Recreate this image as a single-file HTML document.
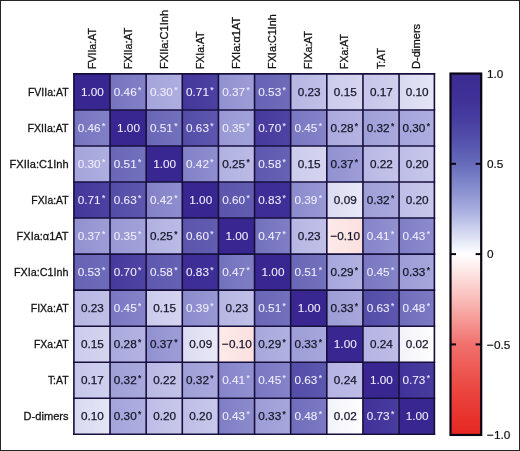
<!DOCTYPE html>
<html lang="en"><head><meta charset="utf-8"><title>Correlation heat map</title>
<style>
html,body{margin:0;padding:0;background:#fff;}
body{width:520px;height:451px;overflow:hidden;}
svg{display:block;}
text{font-family:"Liberation Sans",sans-serif;}
.v{font-size:11.75px;text-anchor:middle;}
.a{font-size:8.5px;}
.r{font-size:11.7px;text-anchor:end;fill:#111;stroke:#111;stroke-width:0.28px;}
.c{font-size:11.7px;text-anchor:start;fill:#111;stroke:#111;stroke-width:0.28px;}
.t{font-size:11.8px;text-anchor:start;fill:#111;stroke:#111;stroke-width:0.2px;}
</style></head><body>
<svg width="520" height="451" viewBox="0 0 520 451">
<rect x="0" y="0" width="520" height="451" fill="#fff"/>
<defs>
<linearGradient id="g0" x1="0" y1="0" x2="1" y2="0"><stop offset="0" stop-color="#392690"/><stop offset="1" stop-color="#392791"/></linearGradient>
<linearGradient id="g1" x1="0" y1="0" x2="1" y2="0"><stop offset="0" stop-color="#7674bf"/><stop offset="1" stop-color="#8281c7"/></linearGradient>
<linearGradient id="g2" x1="0" y1="0" x2="1" y2="0"><stop offset="0" stop-color="#a5a4db"/><stop offset="1" stop-color="#afaee0"/></linearGradient>
<linearGradient id="g3" x1="0" y1="0" x2="1" y2="0"><stop offset="0" stop-color="#44379c"/><stop offset="1" stop-color="#4c42a2"/></linearGradient>
<linearGradient id="g4" x1="0" y1="0" x2="1" y2="0"><stop offset="0" stop-color="#9291d1"/><stop offset="1" stop-color="#9d9dd7"/></linearGradient>
<linearGradient id="g5" x1="0" y1="0" x2="1" y2="0"><stop offset="0" stop-color="#6763b5"/><stop offset="1" stop-color="#6e6cba"/></linearGradient>
<linearGradient id="g6" x1="0" y1="0" x2="1" y2="0"><stop offset="0" stop-color="#b6b6e4"/><stop offset="1" stop-color="#c1c0e8"/></linearGradient>
<linearGradient id="g7" x1="0" y1="0" x2="1" y2="0"><stop offset="0" stop-color="#cbcbec"/><stop offset="1" stop-color="#d5d5f0"/></linearGradient>
<linearGradient id="g8" x1="0" y1="0" x2="1" y2="0"><stop offset="0" stop-color="#c6c5ea"/><stop offset="1" stop-color="#d0d0ee"/></linearGradient>
<linearGradient id="g9" x1="0" y1="0" x2="1" y2="0"><stop offset="0" stop-color="#d8d8f1"/><stop offset="1" stop-color="#e5e5f6"/></linearGradient>
<linearGradient id="g10" x1="0" y1="0" x2="1" y2="0"><stop offset="0" stop-color="#6a67b7"/><stop offset="1" stop-color="#7271bd"/></linearGradient>
<linearGradient id="g11" x1="0" y1="0" x2="1" y2="0"><stop offset="0" stop-color="#544da8"/><stop offset="1" stop-color="#5c57ae"/></linearGradient>
<linearGradient id="g12" x1="0" y1="0" x2="1" y2="0"><stop offset="0" stop-color="#9898d4"/><stop offset="1" stop-color="#a2a2da"/></linearGradient>
<linearGradient id="g13" x1="0" y1="0" x2="1" y2="0"><stop offset="0" stop-color="#463a9d"/><stop offset="1" stop-color="#4e44a3"/></linearGradient>
<linearGradient id="g14" x1="0" y1="0" x2="1" y2="0"><stop offset="0" stop-color="#7977c1"/><stop offset="1" stop-color="#8584c9"/></linearGradient>
<linearGradient id="g15" x1="0" y1="0" x2="1" y2="0"><stop offset="0" stop-color="#aaa9dd"/><stop offset="1" stop-color="#b4b3e2"/></linearGradient>
<linearGradient id="g16" x1="0" y1="0" x2="1" y2="0"><stop offset="0" stop-color="#9f9fd8"/><stop offset="1" stop-color="#aaa9dd"/></linearGradient>
<linearGradient id="g17" x1="0" y1="0" x2="1" y2="0"><stop offset="0" stop-color="#8281c7"/><stop offset="1" stop-color="#8f8ecf"/></linearGradient>
<linearGradient id="g18" x1="0" y1="0" x2="1" y2="0"><stop offset="0" stop-color="#b1b1e1"/><stop offset="1" stop-color="#bcbbe6"/></linearGradient>
<linearGradient id="g19" x1="0" y1="0" x2="1" y2="0"><stop offset="0" stop-color="#5e59af"/><stop offset="1" stop-color="#6561b4"/></linearGradient>
<linearGradient id="g20" x1="0" y1="0" x2="1" y2="0"><stop offset="0" stop-color="#b9b8e5"/><stop offset="1" stop-color="#c3c3e9"/></linearGradient>
<linearGradient id="g21" x1="0" y1="0" x2="1" y2="0"><stop offset="0" stop-color="#bebde7"/><stop offset="1" stop-color="#c8c8eb"/></linearGradient>
<linearGradient id="g22" x1="0" y1="0" x2="1" y2="0"><stop offset="0" stop-color="#5b55ac"/><stop offset="1" stop-color="#625db1"/></linearGradient>
<linearGradient id="g23" x1="0" y1="0" x2="1" y2="0"><stop offset="0" stop-color="#3d2c95"/><stop offset="1" stop-color="#3e2f97"/></linearGradient>
<linearGradient id="g24" x1="0" y1="0" x2="1" y2="0"><stop offset="0" stop-color="#8b8bcd"/><stop offset="1" stop-color="#9898d4"/></linearGradient>
<linearGradient id="g25" x1="0" y1="0" x2="1" y2="0"><stop offset="0" stop-color="#dbdbf2"/><stop offset="1" stop-color="#e8e8f7"/></linearGradient>
<linearGradient id="g26" x1="0" y1="0" x2="1" y2="0"><stop offset="0" stop-color="#7271bd"/><stop offset="1" stop-color="#7f7ec5"/></linearGradient>
<linearGradient id="g27" x1="0" y1="0" x2="1" y2="0"><stop offset="0" stop-color="#fdeae9"/><stop offset="1" stop-color="#fce0de"/></linearGradient>
<linearGradient id="g28" x1="0" y1="0" x2="1" y2="0"><stop offset="0" stop-color="#8584c9"/><stop offset="1" stop-color="#9291d1"/></linearGradient>
<linearGradient id="g29" x1="0" y1="0" x2="1" y2="0"><stop offset="0" stop-color="#7f7ec5"/><stop offset="1" stop-color="#8b8bcd"/></linearGradient>
<linearGradient id="g30" x1="0" y1="0" x2="1" y2="0"><stop offset="0" stop-color="#a7a7dc"/><stop offset="1" stop-color="#b1b1e1"/></linearGradient>
<linearGradient id="g31" x1="0" y1="0" x2="1" y2="0"><stop offset="0" stop-color="#9d9dd7"/><stop offset="1" stop-color="#a7a7dc"/></linearGradient>
<linearGradient id="g32" x1="0" y1="0" x2="1" y2="0"><stop offset="0" stop-color="#706ebb"/><stop offset="1" stop-color="#7c7ac3"/></linearGradient>
<linearGradient id="g33" x1="0" y1="0" x2="1" y2="0"><stop offset="0" stop-color="#b4b3e2"/><stop offset="1" stop-color="#bebde7"/></linearGradient>
<linearGradient id="g34" x1="0" y1="0" x2="1" y2="0"><stop offset="0" stop-color="#f2f2fa"/><stop offset="1" stop-color="#fefeff"/></linearGradient>
<linearGradient id="g35" x1="0" y1="0" x2="1" y2="0"><stop offset="0" stop-color="#403299"/><stop offset="1" stop-color="#483c9f"/></linearGradient>
</defs>
<rect x="73.90" y="73.90" width="36.13" height="36.04" fill="url(#g0)"/>
<rect x="110.03" y="73.90" width="36.13" height="36.04" fill="url(#g1)"/>
<rect x="146.16" y="73.90" width="36.13" height="36.04" fill="url(#g2)"/>
<rect x="182.29" y="73.90" width="36.13" height="36.04" fill="url(#g3)"/>
<rect x="218.42" y="73.90" width="36.13" height="36.04" fill="url(#g4)"/>
<rect x="254.55" y="73.90" width="36.13" height="36.04" fill="url(#g5)"/>
<rect x="290.68" y="73.90" width="36.13" height="36.04" fill="url(#g6)"/>
<rect x="326.81" y="73.90" width="36.13" height="36.04" fill="url(#g7)"/>
<rect x="362.94" y="73.90" width="36.13" height="36.04" fill="url(#g8)"/>
<rect x="399.07" y="73.90" width="35.33" height="36.04" fill="url(#g9)"/>
<rect x="73.90" y="109.94" width="36.13" height="36.04" fill="url(#g1)"/>
<rect x="110.03" y="109.94" width="36.13" height="36.04" fill="url(#g0)"/>
<rect x="146.16" y="109.94" width="36.13" height="36.04" fill="url(#g10)"/>
<rect x="182.29" y="109.94" width="36.13" height="36.04" fill="url(#g11)"/>
<rect x="218.42" y="109.94" width="36.13" height="36.04" fill="url(#g12)"/>
<rect x="254.55" y="109.94" width="36.13" height="36.04" fill="url(#g13)"/>
<rect x="290.68" y="109.94" width="36.13" height="36.04" fill="url(#g14)"/>
<rect x="326.81" y="109.94" width="36.13" height="36.04" fill="url(#g15)"/>
<rect x="362.94" y="109.94" width="36.13" height="36.04" fill="url(#g16)"/>
<rect x="399.07" y="109.94" width="35.33" height="36.04" fill="url(#g2)"/>
<rect x="73.90" y="145.98" width="36.13" height="36.04" fill="url(#g2)"/>
<rect x="110.03" y="145.98" width="36.13" height="36.04" fill="url(#g10)"/>
<rect x="146.16" y="145.98" width="36.13" height="36.04" fill="url(#g0)"/>
<rect x="182.29" y="145.98" width="36.13" height="36.04" fill="url(#g17)"/>
<rect x="218.42" y="145.98" width="36.13" height="36.04" fill="url(#g18)"/>
<rect x="254.55" y="145.98" width="36.13" height="36.04" fill="url(#g19)"/>
<rect x="290.68" y="145.98" width="36.13" height="36.04" fill="url(#g7)"/>
<rect x="326.81" y="145.98" width="36.13" height="36.04" fill="url(#g4)"/>
<rect x="362.94" y="145.98" width="36.13" height="36.04" fill="url(#g20)"/>
<rect x="399.07" y="145.98" width="35.33" height="36.04" fill="url(#g21)"/>
<rect x="73.90" y="182.02" width="36.13" height="36.04" fill="url(#g3)"/>
<rect x="110.03" y="182.02" width="36.13" height="36.04" fill="url(#g11)"/>
<rect x="146.16" y="182.02" width="36.13" height="36.04" fill="url(#g17)"/>
<rect x="182.29" y="182.02" width="36.13" height="36.04" fill="url(#g0)"/>
<rect x="218.42" y="182.02" width="36.13" height="36.04" fill="url(#g22)"/>
<rect x="254.55" y="182.02" width="36.13" height="36.04" fill="url(#g23)"/>
<rect x="290.68" y="182.02" width="36.13" height="36.04" fill="url(#g24)"/>
<rect x="326.81" y="182.02" width="36.13" height="36.04" fill="url(#g25)"/>
<rect x="362.94" y="182.02" width="36.13" height="36.04" fill="url(#g16)"/>
<rect x="399.07" y="182.02" width="35.33" height="36.04" fill="url(#g21)"/>
<rect x="73.90" y="218.06" width="36.13" height="36.04" fill="url(#g4)"/>
<rect x="110.03" y="218.06" width="36.13" height="36.04" fill="url(#g12)"/>
<rect x="146.16" y="218.06" width="36.13" height="36.04" fill="url(#g18)"/>
<rect x="182.29" y="218.06" width="36.13" height="36.04" fill="url(#g22)"/>
<rect x="218.42" y="218.06" width="36.13" height="36.04" fill="url(#g0)"/>
<rect x="254.55" y="218.06" width="36.13" height="36.04" fill="url(#g26)"/>
<rect x="290.68" y="218.06" width="36.13" height="36.04" fill="url(#g6)"/>
<rect x="326.81" y="218.06" width="36.13" height="36.04" fill="url(#g27)"/>
<rect x="362.94" y="218.06" width="36.13" height="36.04" fill="url(#g28)"/>
<rect x="399.07" y="218.06" width="35.33" height="36.04" fill="url(#g29)"/>
<rect x="73.90" y="254.10" width="36.13" height="36.04" fill="url(#g5)"/>
<rect x="110.03" y="254.10" width="36.13" height="36.04" fill="url(#g13)"/>
<rect x="146.16" y="254.10" width="36.13" height="36.04" fill="url(#g19)"/>
<rect x="182.29" y="254.10" width="36.13" height="36.04" fill="url(#g23)"/>
<rect x="218.42" y="254.10" width="36.13" height="36.04" fill="url(#g26)"/>
<rect x="254.55" y="254.10" width="36.13" height="36.04" fill="url(#g0)"/>
<rect x="290.68" y="254.10" width="36.13" height="36.04" fill="url(#g10)"/>
<rect x="326.81" y="254.10" width="36.13" height="36.04" fill="url(#g30)"/>
<rect x="362.94" y="254.10" width="36.13" height="36.04" fill="url(#g14)"/>
<rect x="399.07" y="254.10" width="35.33" height="36.04" fill="url(#g31)"/>
<rect x="73.90" y="290.14" width="36.13" height="36.04" fill="url(#g6)"/>
<rect x="110.03" y="290.14" width="36.13" height="36.04" fill="url(#g14)"/>
<rect x="146.16" y="290.14" width="36.13" height="36.04" fill="url(#g7)"/>
<rect x="182.29" y="290.14" width="36.13" height="36.04" fill="url(#g24)"/>
<rect x="218.42" y="290.14" width="36.13" height="36.04" fill="url(#g6)"/>
<rect x="254.55" y="290.14" width="36.13" height="36.04" fill="url(#g10)"/>
<rect x="290.68" y="290.14" width="36.13" height="36.04" fill="url(#g0)"/>
<rect x="326.81" y="290.14" width="36.13" height="36.04" fill="url(#g31)"/>
<rect x="362.94" y="290.14" width="36.13" height="36.04" fill="url(#g11)"/>
<rect x="399.07" y="290.14" width="35.33" height="36.04" fill="url(#g32)"/>
<rect x="73.90" y="326.18" width="36.13" height="36.04" fill="url(#g7)"/>
<rect x="110.03" y="326.18" width="36.13" height="36.04" fill="url(#g15)"/>
<rect x="146.16" y="326.18" width="36.13" height="36.04" fill="url(#g4)"/>
<rect x="182.29" y="326.18" width="36.13" height="36.04" fill="url(#g25)"/>
<rect x="218.42" y="326.18" width="36.13" height="36.04" fill="url(#g27)"/>
<rect x="254.55" y="326.18" width="36.13" height="36.04" fill="url(#g30)"/>
<rect x="290.68" y="326.18" width="36.13" height="36.04" fill="url(#g31)"/>
<rect x="326.81" y="326.18" width="36.13" height="36.04" fill="url(#g0)"/>
<rect x="362.94" y="326.18" width="36.13" height="36.04" fill="url(#g33)"/>
<rect x="399.07" y="326.18" width="35.33" height="36.04" fill="url(#g34)"/>
<rect x="73.90" y="362.22" width="36.13" height="36.04" fill="url(#g8)"/>
<rect x="110.03" y="362.22" width="36.13" height="36.04" fill="url(#g16)"/>
<rect x="146.16" y="362.22" width="36.13" height="36.04" fill="url(#g20)"/>
<rect x="182.29" y="362.22" width="36.13" height="36.04" fill="url(#g16)"/>
<rect x="218.42" y="362.22" width="36.13" height="36.04" fill="url(#g28)"/>
<rect x="254.55" y="362.22" width="36.13" height="36.04" fill="url(#g14)"/>
<rect x="290.68" y="362.22" width="36.13" height="36.04" fill="url(#g11)"/>
<rect x="326.81" y="362.22" width="36.13" height="36.04" fill="url(#g33)"/>
<rect x="362.94" y="362.22" width="36.13" height="36.04" fill="url(#g0)"/>
<rect x="399.07" y="362.22" width="35.33" height="36.04" fill="url(#g35)"/>
<rect x="73.90" y="398.26" width="36.13" height="36.04" fill="url(#g9)"/>
<rect x="110.03" y="398.26" width="36.13" height="36.04" fill="url(#g2)"/>
<rect x="146.16" y="398.26" width="36.13" height="36.04" fill="url(#g21)"/>
<rect x="182.29" y="398.26" width="36.13" height="36.04" fill="url(#g21)"/>
<rect x="218.42" y="398.26" width="36.13" height="36.04" fill="url(#g29)"/>
<rect x="254.55" y="398.26" width="36.13" height="36.04" fill="url(#g31)"/>
<rect x="290.68" y="398.26" width="36.13" height="36.04" fill="url(#g32)"/>
<rect x="326.81" y="398.26" width="36.13" height="36.04" fill="url(#g34)"/>
<rect x="362.94" y="398.26" width="36.13" height="36.04" fill="url(#g35)"/>
<rect x="399.07" y="398.26" width="35.33" height="36.04" fill="url(#g0)"/>
<line x1="73.90" y1="73.10" x2="73.90" y2="435.10" stroke="#160f3c" stroke-width="1.6"/>
<line x1="73.10" y1="73.90" x2="435.20" y2="73.90" stroke="#160f3c" stroke-width="1.6"/>
<line x1="110.03" y1="73.10" x2="110.03" y2="435.10" stroke="#160f3c" stroke-width="1.6"/>
<line x1="73.10" y1="109.94" x2="435.20" y2="109.94" stroke="#160f3c" stroke-width="1.6"/>
<line x1="146.16" y1="73.10" x2="146.16" y2="435.10" stroke="#160f3c" stroke-width="1.6"/>
<line x1="73.10" y1="145.98" x2="435.20" y2="145.98" stroke="#160f3c" stroke-width="1.6"/>
<line x1="182.29" y1="73.10" x2="182.29" y2="435.10" stroke="#160f3c" stroke-width="1.6"/>
<line x1="73.10" y1="182.02" x2="435.20" y2="182.02" stroke="#160f3c" stroke-width="1.6"/>
<line x1="218.42" y1="73.10" x2="218.42" y2="435.10" stroke="#160f3c" stroke-width="1.6"/>
<line x1="73.10" y1="218.06" x2="435.20" y2="218.06" stroke="#160f3c" stroke-width="1.6"/>
<line x1="254.55" y1="73.10" x2="254.55" y2="435.10" stroke="#160f3c" stroke-width="1.6"/>
<line x1="73.10" y1="254.10" x2="435.20" y2="254.10" stroke="#160f3c" stroke-width="1.6"/>
<line x1="290.68" y1="73.10" x2="290.68" y2="435.10" stroke="#160f3c" stroke-width="1.6"/>
<line x1="73.10" y1="290.14" x2="435.20" y2="290.14" stroke="#160f3c" stroke-width="1.6"/>
<line x1="326.81" y1="73.10" x2="326.81" y2="435.10" stroke="#160f3c" stroke-width="1.6"/>
<line x1="73.10" y1="326.18" x2="435.20" y2="326.18" stroke="#160f3c" stroke-width="1.6"/>
<line x1="362.94" y1="73.10" x2="362.94" y2="435.10" stroke="#160f3c" stroke-width="1.6"/>
<line x1="73.10" y1="362.22" x2="435.20" y2="362.22" stroke="#160f3c" stroke-width="1.6"/>
<line x1="399.07" y1="73.10" x2="399.07" y2="435.10" stroke="#160f3c" stroke-width="1.6"/>
<line x1="73.10" y1="398.26" x2="435.20" y2="398.26" stroke="#160f3c" stroke-width="1.6"/>
<line x1="434.40" y1="73.10" x2="434.40" y2="435.10" stroke="#160f3c" stroke-width="1.6"/>
<line x1="73.10" y1="434.30" x2="435.20" y2="434.30" stroke="#160f3c" stroke-width="1.6"/>
<text class="v" x="92.37" y="95.82" fill="#efedfc" stroke="#efedfc" stroke-width="0.08">1.00</text>
<text class="v" x="127.60" y="95.82" fill="#efedfc" stroke="#efedfc" stroke-width="0.08">0.46<tspan class="a" dx="1.4" dy="-2.8">*</tspan></text>
<text class="v" x="163.73" y="95.82" fill="#efedfc" stroke="#efedfc" stroke-width="0.08">0.30<tspan class="a" dx="1.4" dy="-2.8">*</tspan></text>
<text class="v" x="199.86" y="95.82" fill="#efedfc" stroke="#efedfc" stroke-width="0.08">0.71<tspan class="a" dx="1.4" dy="-2.8">*</tspan></text>
<text class="v" x="235.99" y="95.82" fill="#efedfc" stroke="#efedfc" stroke-width="0.08">0.37<tspan class="a" dx="1.4" dy="-2.8">*</tspan></text>
<text class="v" x="272.12" y="95.82" fill="#efedfc" stroke="#efedfc" stroke-width="0.08">0.53<tspan class="a" dx="1.4" dy="-2.8">*</tspan></text>
<text class="v" x="309.15" y="95.82" fill="#16162a" stroke="#16162a" stroke-width="0.25">0.23</text>
<text class="v" x="345.28" y="95.82" fill="#16162a" stroke="#16162a" stroke-width="0.25">0.15</text>
<text class="v" x="381.41" y="95.82" fill="#16162a" stroke="#16162a" stroke-width="0.25">0.17</text>
<text class="v" x="417.13" y="95.82" fill="#16162a" stroke="#16162a" stroke-width="0.25">0.10</text>
<text class="v" x="91.47" y="131.86" fill="#efedfc" stroke="#efedfc" stroke-width="0.08">0.46<tspan class="a" dx="1.4" dy="-2.8">*</tspan></text>
<text class="v" x="128.50" y="131.86" fill="#efedfc" stroke="#efedfc" stroke-width="0.08">1.00</text>
<text class="v" x="163.73" y="131.86" fill="#efedfc" stroke="#efedfc" stroke-width="0.08">0.51<tspan class="a" dx="1.4" dy="-2.8">*</tspan></text>
<text class="v" x="199.86" y="131.86" fill="#efedfc" stroke="#efedfc" stroke-width="0.08">0.63<tspan class="a" dx="1.4" dy="-2.8">*</tspan></text>
<text class="v" x="235.99" y="131.86" fill="#efedfc" stroke="#efedfc" stroke-width="0.08">0.35<tspan class="a" dx="1.4" dy="-2.8">*</tspan></text>
<text class="v" x="272.12" y="131.86" fill="#efedfc" stroke="#efedfc" stroke-width="0.08">0.70<tspan class="a" dx="1.4" dy="-2.8">*</tspan></text>
<text class="v" x="308.25" y="131.86" fill="#efedfc" stroke="#efedfc" stroke-width="0.08">0.45<tspan class="a" dx="1.4" dy="-2.8">*</tspan></text>
<text class="v" x="344.38" y="131.86" fill="#16162a" stroke="#16162a" stroke-width="0.25">0.28<tspan class="a" dx="1.4" dy="-2.8">*</tspan></text>
<text class="v" x="380.51" y="131.86" fill="#16162a" stroke="#16162a" stroke-width="0.25">0.32<tspan class="a" dx="1.4" dy="-2.8">*</tspan></text>
<text class="v" x="416.24" y="131.86" fill="#16162a" stroke="#16162a" stroke-width="0.25">0.30<tspan class="a" dx="1.4" dy="-2.8">*</tspan></text>
<text class="v" x="91.47" y="167.90" fill="#efedfc" stroke="#efedfc" stroke-width="0.08">0.30<tspan class="a" dx="1.4" dy="-2.8">*</tspan></text>
<text class="v" x="127.60" y="167.90" fill="#efedfc" stroke="#efedfc" stroke-width="0.08">0.51<tspan class="a" dx="1.4" dy="-2.8">*</tspan></text>
<text class="v" x="164.63" y="167.90" fill="#efedfc" stroke="#efedfc" stroke-width="0.08">1.00</text>
<text class="v" x="199.86" y="167.90" fill="#efedfc" stroke="#efedfc" stroke-width="0.08">0.42<tspan class="a" dx="1.4" dy="-2.8">*</tspan></text>
<text class="v" x="235.99" y="167.90" fill="#16162a" stroke="#16162a" stroke-width="0.25">0.25<tspan class="a" dx="1.4" dy="-2.8">*</tspan></text>
<text class="v" x="272.12" y="167.90" fill="#efedfc" stroke="#efedfc" stroke-width="0.08">0.58<tspan class="a" dx="1.4" dy="-2.8">*</tspan></text>
<text class="v" x="309.15" y="167.90" fill="#16162a" stroke="#16162a" stroke-width="0.25">0.15</text>
<text class="v" x="344.38" y="167.90" fill="#16162a" stroke="#16162a" stroke-width="0.25">0.37<tspan class="a" dx="1.4" dy="-2.8">*</tspan></text>
<text class="v" x="381.41" y="167.90" fill="#16162a" stroke="#16162a" stroke-width="0.25">0.22</text>
<text class="v" x="417.13" y="167.90" fill="#16162a" stroke="#16162a" stroke-width="0.25">0.20</text>
<text class="v" x="91.47" y="203.94" fill="#efedfc" stroke="#efedfc" stroke-width="0.08">0.71<tspan class="a" dx="1.4" dy="-2.8">*</tspan></text>
<text class="v" x="127.60" y="203.94" fill="#efedfc" stroke="#efedfc" stroke-width="0.08">0.63<tspan class="a" dx="1.4" dy="-2.8">*</tspan></text>
<text class="v" x="163.73" y="203.94" fill="#efedfc" stroke="#efedfc" stroke-width="0.08">0.42<tspan class="a" dx="1.4" dy="-2.8">*</tspan></text>
<text class="v" x="200.76" y="203.94" fill="#efedfc" stroke="#efedfc" stroke-width="0.08">1.00</text>
<text class="v" x="235.99" y="203.94" fill="#efedfc" stroke="#efedfc" stroke-width="0.08">0.60<tspan class="a" dx="1.4" dy="-2.8">*</tspan></text>
<text class="v" x="272.12" y="203.94" fill="#efedfc" stroke="#efedfc" stroke-width="0.08">0.83<tspan class="a" dx="1.4" dy="-2.8">*</tspan></text>
<text class="v" x="308.25" y="203.94" fill="#efedfc" stroke="#efedfc" stroke-width="0.08">0.39<tspan class="a" dx="1.4" dy="-2.8">*</tspan></text>
<text class="v" x="345.28" y="203.94" fill="#16162a" stroke="#16162a" stroke-width="0.25">0.09</text>
<text class="v" x="380.51" y="203.94" fill="#16162a" stroke="#16162a" stroke-width="0.25">0.32<tspan class="a" dx="1.4" dy="-2.8">*</tspan></text>
<text class="v" x="417.13" y="203.94" fill="#16162a" stroke="#16162a" stroke-width="0.25">0.20</text>
<text class="v" x="91.47" y="239.98" fill="#efedfc" stroke="#efedfc" stroke-width="0.08">0.37<tspan class="a" dx="1.4" dy="-2.8">*</tspan></text>
<text class="v" x="127.60" y="239.98" fill="#efedfc" stroke="#efedfc" stroke-width="0.08">0.35<tspan class="a" dx="1.4" dy="-2.8">*</tspan></text>
<text class="v" x="163.73" y="239.98" fill="#16162a" stroke="#16162a" stroke-width="0.25">0.25<tspan class="a" dx="1.4" dy="-2.8">*</tspan></text>
<text class="v" x="199.86" y="239.98" fill="#efedfc" stroke="#efedfc" stroke-width="0.08">0.60<tspan class="a" dx="1.4" dy="-2.8">*</tspan></text>
<text class="v" x="236.89" y="239.98" fill="#efedfc" stroke="#efedfc" stroke-width="0.08">1.00</text>
<text class="v" x="272.12" y="239.98" fill="#efedfc" stroke="#efedfc" stroke-width="0.08">0.47<tspan class="a" dx="1.4" dy="-2.8">*</tspan></text>
<text class="v" x="309.15" y="239.98" fill="#16162a" stroke="#16162a" stroke-width="0.25">0.23</text>
<text class="v" x="345.28" y="239.98" fill="#16162a" stroke="#16162a" stroke-width="0.25">−0.10</text>
<text class="v" x="380.51" y="239.98" fill="#efedfc" stroke="#efedfc" stroke-width="0.08">0.41<tspan class="a" dx="1.4" dy="-2.8">*</tspan></text>
<text class="v" x="416.24" y="239.98" fill="#efedfc" stroke="#efedfc" stroke-width="0.08">0.43<tspan class="a" dx="1.4" dy="-2.8">*</tspan></text>
<text class="v" x="91.47" y="276.02" fill="#efedfc" stroke="#efedfc" stroke-width="0.08">0.53<tspan class="a" dx="1.4" dy="-2.8">*</tspan></text>
<text class="v" x="127.60" y="276.02" fill="#efedfc" stroke="#efedfc" stroke-width="0.08">0.70<tspan class="a" dx="1.4" dy="-2.8">*</tspan></text>
<text class="v" x="163.73" y="276.02" fill="#efedfc" stroke="#efedfc" stroke-width="0.08">0.58<tspan class="a" dx="1.4" dy="-2.8">*</tspan></text>
<text class="v" x="199.86" y="276.02" fill="#efedfc" stroke="#efedfc" stroke-width="0.08">0.83<tspan class="a" dx="1.4" dy="-2.8">*</tspan></text>
<text class="v" x="235.99" y="276.02" fill="#efedfc" stroke="#efedfc" stroke-width="0.08">0.47<tspan class="a" dx="1.4" dy="-2.8">*</tspan></text>
<text class="v" x="273.01" y="276.02" fill="#efedfc" stroke="#efedfc" stroke-width="0.08">1.00</text>
<text class="v" x="308.25" y="276.02" fill="#efedfc" stroke="#efedfc" stroke-width="0.08">0.51<tspan class="a" dx="1.4" dy="-2.8">*</tspan></text>
<text class="v" x="344.38" y="276.02" fill="#16162a" stroke="#16162a" stroke-width="0.25">0.29<tspan class="a" dx="1.4" dy="-2.8">*</tspan></text>
<text class="v" x="380.51" y="276.02" fill="#efedfc" stroke="#efedfc" stroke-width="0.08">0.45<tspan class="a" dx="1.4" dy="-2.8">*</tspan></text>
<text class="v" x="416.24" y="276.02" fill="#16162a" stroke="#16162a" stroke-width="0.25">0.33<tspan class="a" dx="1.4" dy="-2.8">*</tspan></text>
<text class="v" x="92.37" y="312.06" fill="#16162a" stroke="#16162a" stroke-width="0.25">0.23</text>
<text class="v" x="127.60" y="312.06" fill="#efedfc" stroke="#efedfc" stroke-width="0.08">0.45<tspan class="a" dx="1.4" dy="-2.8">*</tspan></text>
<text class="v" x="164.63" y="312.06" fill="#16162a" stroke="#16162a" stroke-width="0.25">0.15</text>
<text class="v" x="199.86" y="312.06" fill="#efedfc" stroke="#efedfc" stroke-width="0.08">0.39<tspan class="a" dx="1.4" dy="-2.8">*</tspan></text>
<text class="v" x="236.89" y="312.06" fill="#16162a" stroke="#16162a" stroke-width="0.25">0.23</text>
<text class="v" x="272.12" y="312.06" fill="#efedfc" stroke="#efedfc" stroke-width="0.08">0.51<tspan class="a" dx="1.4" dy="-2.8">*</tspan></text>
<text class="v" x="309.15" y="312.06" fill="#efedfc" stroke="#efedfc" stroke-width="0.08">1.00</text>
<text class="v" x="344.38" y="312.06" fill="#16162a" stroke="#16162a" stroke-width="0.25">0.33<tspan class="a" dx="1.4" dy="-2.8">*</tspan></text>
<text class="v" x="380.51" y="312.06" fill="#efedfc" stroke="#efedfc" stroke-width="0.08">0.63<tspan class="a" dx="1.4" dy="-2.8">*</tspan></text>
<text class="v" x="416.24" y="312.06" fill="#efedfc" stroke="#efedfc" stroke-width="0.08">0.48<tspan class="a" dx="1.4" dy="-2.8">*</tspan></text>
<text class="v" x="92.37" y="348.10" fill="#16162a" stroke="#16162a" stroke-width="0.25">0.15</text>
<text class="v" x="127.60" y="348.10" fill="#16162a" stroke="#16162a" stroke-width="0.25">0.28<tspan class="a" dx="1.4" dy="-2.8">*</tspan></text>
<text class="v" x="163.73" y="348.10" fill="#16162a" stroke="#16162a" stroke-width="0.25">0.37<tspan class="a" dx="1.4" dy="-2.8">*</tspan></text>
<text class="v" x="200.76" y="348.10" fill="#16162a" stroke="#16162a" stroke-width="0.25">0.09</text>
<text class="v" x="236.89" y="348.10" fill="#16162a" stroke="#16162a" stroke-width="0.25">−0.10</text>
<text class="v" x="272.12" y="348.10" fill="#16162a" stroke="#16162a" stroke-width="0.25">0.29<tspan class="a" dx="1.4" dy="-2.8">*</tspan></text>
<text class="v" x="308.25" y="348.10" fill="#16162a" stroke="#16162a" stroke-width="0.25">0.33<tspan class="a" dx="1.4" dy="-2.8">*</tspan></text>
<text class="v" x="345.28" y="348.10" fill="#efedfc" stroke="#efedfc" stroke-width="0.08">1.00</text>
<text class="v" x="381.41" y="348.10" fill="#16162a" stroke="#16162a" stroke-width="0.25">0.24</text>
<text class="v" x="417.13" y="348.10" fill="#16162a" stroke="#16162a" stroke-width="0.25">0.02</text>
<text class="v" x="92.37" y="384.14" fill="#16162a" stroke="#16162a" stroke-width="0.25">0.17</text>
<text class="v" x="127.60" y="384.14" fill="#16162a" stroke="#16162a" stroke-width="0.25">0.32<tspan class="a" dx="1.4" dy="-2.8">*</tspan></text>
<text class="v" x="164.63" y="384.14" fill="#16162a" stroke="#16162a" stroke-width="0.25">0.22</text>
<text class="v" x="199.86" y="384.14" fill="#16162a" stroke="#16162a" stroke-width="0.25">0.32<tspan class="a" dx="1.4" dy="-2.8">*</tspan></text>
<text class="v" x="235.99" y="384.14" fill="#efedfc" stroke="#efedfc" stroke-width="0.08">0.41<tspan class="a" dx="1.4" dy="-2.8">*</tspan></text>
<text class="v" x="272.12" y="384.14" fill="#efedfc" stroke="#efedfc" stroke-width="0.08">0.45<tspan class="a" dx="1.4" dy="-2.8">*</tspan></text>
<text class="v" x="308.25" y="384.14" fill="#efedfc" stroke="#efedfc" stroke-width="0.08">0.63<tspan class="a" dx="1.4" dy="-2.8">*</tspan></text>
<text class="v" x="345.28" y="384.14" fill="#16162a" stroke="#16162a" stroke-width="0.25">0.24</text>
<text class="v" x="381.41" y="384.14" fill="#efedfc" stroke="#efedfc" stroke-width="0.08">1.00</text>
<text class="v" x="416.24" y="384.14" fill="#efedfc" stroke="#efedfc" stroke-width="0.08">0.73<tspan class="a" dx="1.4" dy="-2.8">*</tspan></text>
<text class="v" x="92.37" y="420.18" fill="#16162a" stroke="#16162a" stroke-width="0.25">0.10</text>
<text class="v" x="127.60" y="420.18" fill="#16162a" stroke="#16162a" stroke-width="0.25">0.30<tspan class="a" dx="1.4" dy="-2.8">*</tspan></text>
<text class="v" x="164.63" y="420.18" fill="#16162a" stroke="#16162a" stroke-width="0.25">0.20</text>
<text class="v" x="200.76" y="420.18" fill="#16162a" stroke="#16162a" stroke-width="0.25">0.20</text>
<text class="v" x="235.99" y="420.18" fill="#efedfc" stroke="#efedfc" stroke-width="0.08">0.43<tspan class="a" dx="1.4" dy="-2.8">*</tspan></text>
<text class="v" x="272.12" y="420.18" fill="#16162a" stroke="#16162a" stroke-width="0.25">0.33<tspan class="a" dx="1.4" dy="-2.8">*</tspan></text>
<text class="v" x="308.25" y="420.18" fill="#efedfc" stroke="#efedfc" stroke-width="0.08">0.48<tspan class="a" dx="1.4" dy="-2.8">*</tspan></text>
<text class="v" x="345.28" y="420.18" fill="#16162a" stroke="#16162a" stroke-width="0.25">0.02</text>
<text class="v" x="380.51" y="420.18" fill="#efedfc" stroke="#efedfc" stroke-width="0.08">0.73<tspan class="a" dx="1.4" dy="-2.8">*</tspan></text>
<text class="v" x="417.13" y="420.18" fill="#efedfc" stroke="#efedfc" stroke-width="0.08">1.00</text>
<text class="r" x="68.6" y="95.87" textLength="40.7" lengthAdjust="spacingAndGlyphs">FVIIa:AT</text>
<text class="r" x="68.6" y="131.91" textLength="41.1" lengthAdjust="spacingAndGlyphs">FXIIa:AT</text>
<text class="r" x="68.6" y="167.95" textLength="59.0" lengthAdjust="spacingAndGlyphs">FXIIa:C1Inh</text>
<text class="r" x="68.6" y="203.99" textLength="37.3" lengthAdjust="spacingAndGlyphs">FXIa:AT</text>
<text class="r" x="68.6" y="240.03" textLength="52.0" lengthAdjust="spacingAndGlyphs">FXIa:α1AT</text>
<text class="r" x="68.6" y="276.07" textLength="54.7" lengthAdjust="spacingAndGlyphs">FXIa:C1Inh</text>
<text class="r" x="68.6" y="312.11" textLength="37.9" lengthAdjust="spacingAndGlyphs">FIXa:AT</text>
<text class="r" x="68.6" y="348.15" textLength="34.6" lengthAdjust="spacingAndGlyphs">FXa:AT</text>
<text class="r" x="68.6" y="384.19" textLength="20.7" lengthAdjust="spacingAndGlyphs">T:AT</text>
<text class="r" x="68.6" y="420.23" textLength="45.0" lengthAdjust="spacingAndGlyphs">D-dimers</text>
<text class="c" transform="translate(95.56,69.0) rotate(-90)" textLength="40.9" lengthAdjust="spacingAndGlyphs">FVIIa:AT</text>
<text class="c" transform="translate(131.70,69.0) rotate(-90)" textLength="41.3" lengthAdjust="spacingAndGlyphs">FXIIa:AT</text>
<text class="c" transform="translate(167.83,69.0) rotate(-90)" textLength="59.2" lengthAdjust="spacingAndGlyphs">FXIIa:C1Inh</text>
<text class="c" transform="translate(203.96,69.0) rotate(-90)" textLength="37.5" lengthAdjust="spacingAndGlyphs">FXIa:AT</text>
<text class="c" transform="translate(240.09,69.0) rotate(-90)" textLength="52.2" lengthAdjust="spacingAndGlyphs">FXIa:α1AT</text>
<text class="c" transform="translate(276.22,69.0) rotate(-90)" textLength="54.9" lengthAdjust="spacingAndGlyphs">FXIa:C1Inh</text>
<text class="c" transform="translate(312.35,69.0) rotate(-90)" textLength="38.1" lengthAdjust="spacingAndGlyphs">FIXa:AT</text>
<text class="c" transform="translate(348.48,69.0) rotate(-90)" textLength="34.8" lengthAdjust="spacingAndGlyphs">FXa:AT</text>
<text class="c" transform="translate(384.61,69.0) rotate(-90)" textLength="20.9" lengthAdjust="spacingAndGlyphs">T:AT</text>
<text class="c" transform="translate(420.34,69.0) rotate(-90)" textLength="45.2" lengthAdjust="spacingAndGlyphs">D-dimers</text>
<defs><linearGradient id="cb" x1="0" y1="0" x2="0" y2="1">
<stop offset="0.0000" stop-color="#3c2c92"/>
<stop offset="0.0625" stop-color="#3e3096"/>
<stop offset="0.1250" stop-color="#463d9f"/>
<stop offset="0.1875" stop-color="#5452ac"/>
<stop offset="0.2500" stop-color="#666cbb"/>
<stop offset="0.3125" stop-color="#848bcd"/>
<stop offset="0.3750" stop-color="#a6acde"/>
<stop offset="0.4375" stop-color="#d2d6f0"/>
<stop offset="0.5000" stop-color="#ffffff"/>
<stop offset="0.5625" stop-color="#fcdedc"/>
<stop offset="0.6250" stop-color="#f9bcb9"/>
<stop offset="0.7500" stop-color="#f1706c"/>
<stop offset="0.8750" stop-color="#eb4640"/>
<stop offset="1.0000" stop-color="#e62621"/>
</linearGradient></defs>
<rect x="450.5" y="73.55" width="30.7" height="361.4" fill="url(#cb)" stroke="#0a0612" stroke-width="2.2"/>
<text class="t" x="487.0" y="77.60">1.0</text>
<line x1="451" y1="163.80" x2="456.0" y2="163.80" stroke="#0a0612" stroke-width="2"/>
<line x1="475.6" y1="163.80" x2="481" y2="163.80" stroke="#0a0612" stroke-width="2"/>
<text class="t" x="487.0" y="167.90">0.5</text>
<line x1="451" y1="254.10" x2="456.0" y2="254.10" stroke="#0a0612" stroke-width="2"/>
<line x1="475.6" y1="254.10" x2="481" y2="254.10" stroke="#0a0612" stroke-width="2"/>
<text class="t" x="487.0" y="258.20">0</text>
<line x1="451" y1="344.40" x2="456.0" y2="344.40" stroke="#0a0612" stroke-width="2"/>
<line x1="475.6" y1="344.40" x2="481" y2="344.40" stroke="#0a0612" stroke-width="2"/>
<text class="t" x="487.0" y="348.50">−0.5</text>
<text class="t" x="487.0" y="438.80">−1.0</text>
<rect x="0.5" y="0.5" width="519" height="450" fill="none" stroke="#262626" stroke-width="1"/>
</svg>
</body></html>
